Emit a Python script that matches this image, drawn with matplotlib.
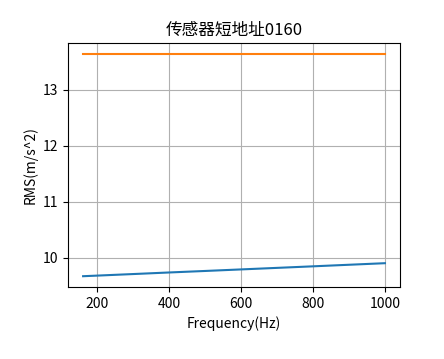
import matplotlib
matplotlib.use("Agg")
import matplotlib.pyplot as plt

plt.rcParams['font.family'] = ['Noto Sans CJK SC', 'DejaVu Sans']
plt.rcParams['axes.unicode_minus'] = False

# frequency points (Hz)
freq = [160, 200, 250, 315, 400, 500, 630, 800, 1000]
# RMS values of the two series
rms_blue = [9.665, 9.676, 9.690, 9.708, 9.732, 9.759, 9.795, 9.842, 9.898]
rms_orange = [13.637, 13.637, 13.637, 13.637, 13.637, 13.637, 13.637, 13.637, 13.637]

fig = plt.figure(figsize=(4.44, 3.59), dpi=100)
ax = fig.add_axes([68 / 444, 1 - 287.3 / 359, (400 - 68) / 444, (287.3 - 43.3) / 359])

ax.plot(freq, rms_blue, color='#1f77b4', linewidth=1.5)
ax.plot(freq, rms_orange, color='#ff7f0e', linewidth=1.5)

ax.set_title('传感器短地址0160', fontsize=12)
ax.set_xlabel('Frequency(Hz)', fontsize=10)
ax.set_ylabel('RMS(m/s^2)', fontsize=10)
ax.set_xticks([200, 400, 600, 800, 1000])
ax.set_yticks([10, 11, 12, 13])
ax.tick_params(labelsize=10)
ax.grid(True)

fig.savefig('out.png', dpi=100)
